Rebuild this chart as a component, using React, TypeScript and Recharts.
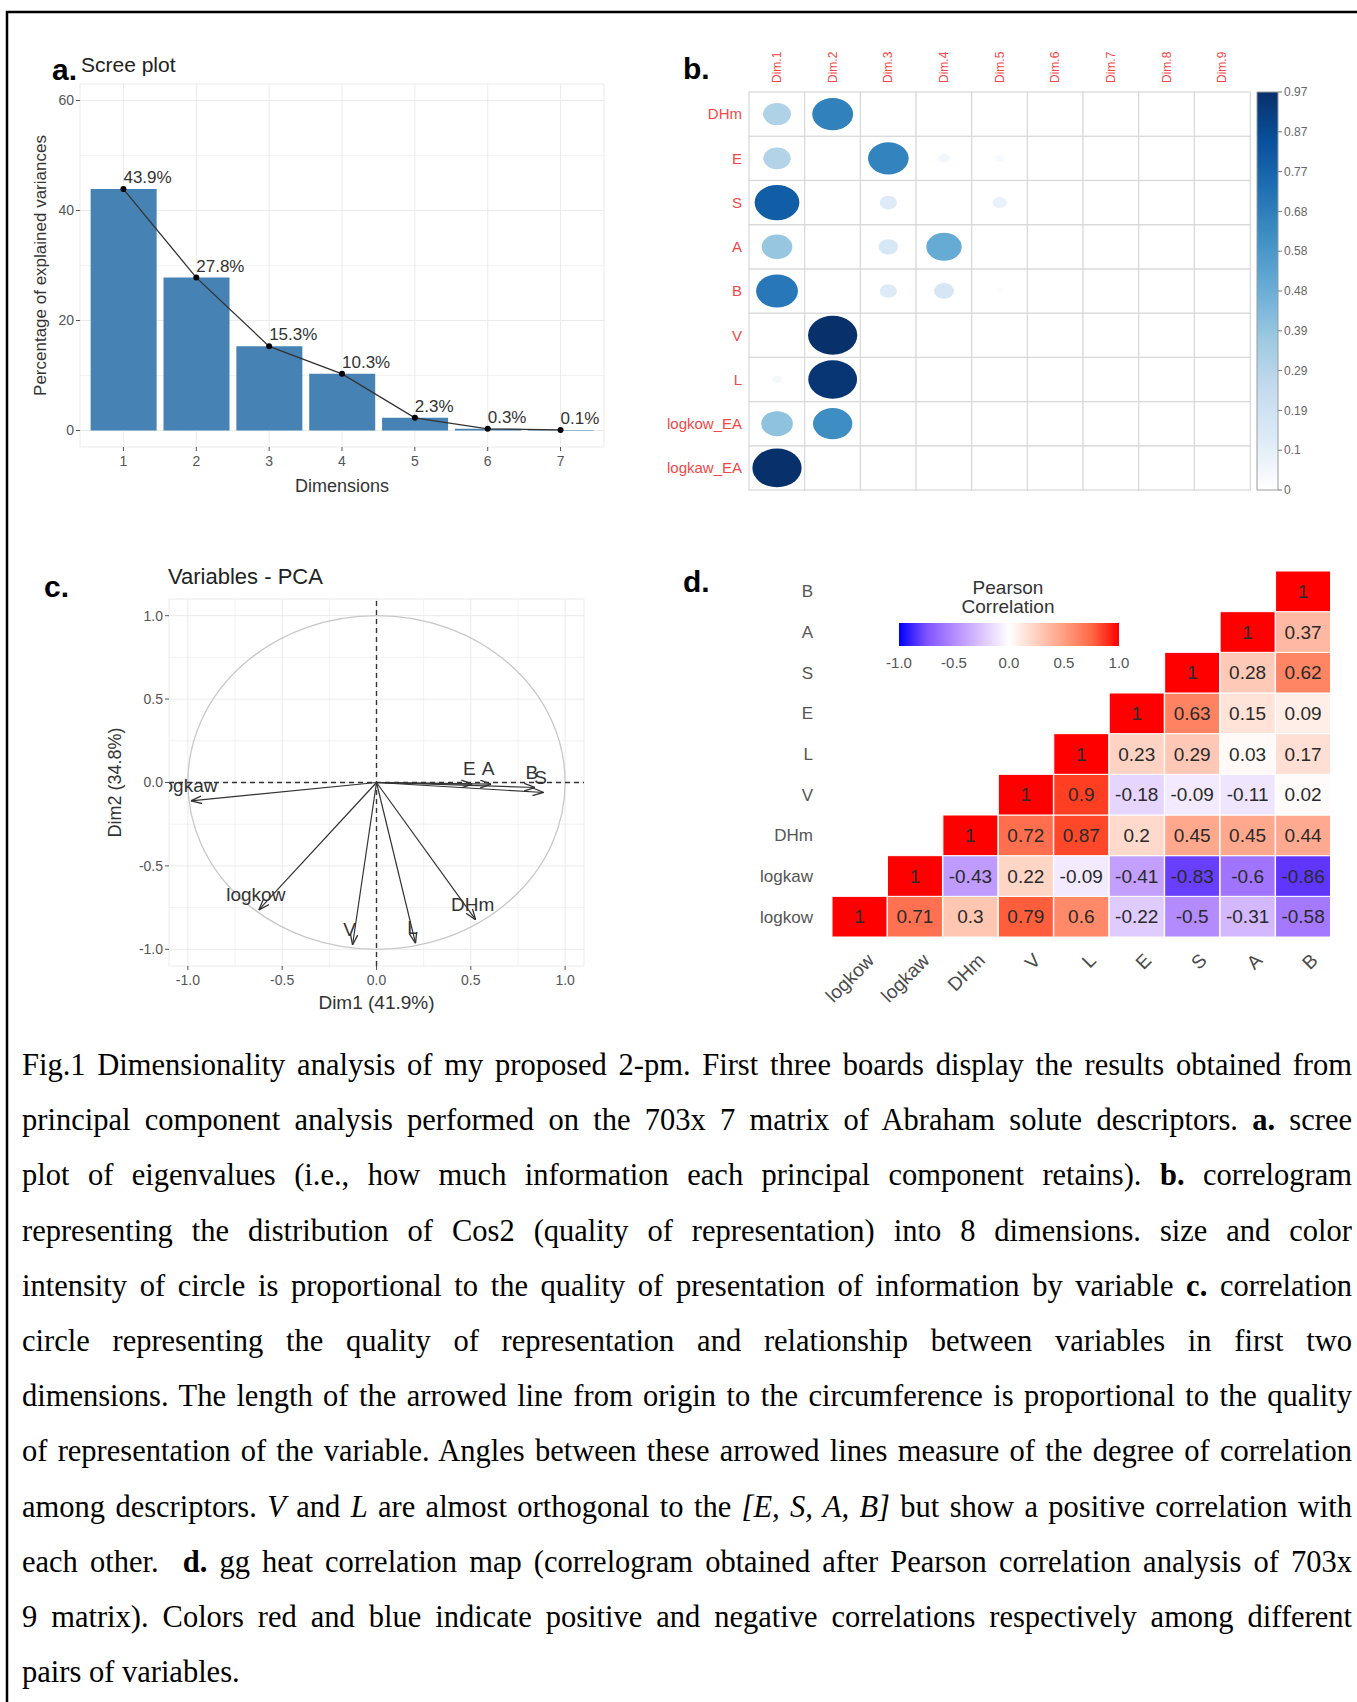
// @ts-nocheck
import React from 'react';
import {
  ComposedChart, BarChart, ScatterChart, Bar, Line, Scatter,
  XAxis, YAxis, CartesianGrid, ReferenceLine, ReferenceArea,
} from 'recharts';

const SANS = '"Liberation Sans", Arial, Helvetica, sans-serif';
const SERIF = '"Liberation Serif", "Times New Roman", serif';

// a. scree plot
const screeDims = ['1', '2', '3', '4', '5', '6', '7'];
const screeValues = [43.9, 27.8, 15.3, 10.3, 2.3, 0.3, 0.1];
const screeTicks = [0, 20, 40, 60];
const screeMinor = [10, 30, 50];

// b. cos2 correlogram (rows listed top to bottom)
const cosDims = ['Dim.1', 'Dim.2', 'Dim.3', 'Dim.4', 'Dim.5', 'Dim.6', 'Dim.7', 'Dim.8', 'Dim.9'];
const cosVars = ['DHm', 'E', 'S', 'A', 'B', 'V', 'L', 'logkow_EA', 'logkaw_EA'];
const cosDHm = [0.31, 0.67, 0.004, 0.006, 0.003, 0.004, 0.002, 0.002, 0.001];
const cosE = [0.3, 0.003, 0.66, 0.05, 0.03, 0.002, 0.002, 0.002, 0.001];
const cosS = [0.8, 0.002, 0.12, 0.008, 0.08, 0.002, 0.002, 0.002, 0.001];
const cosA = [0.38, 0.002, 0.15, 0.5, 0.003, 0.002, 0.002, 0.002, 0.001];
const cosB = [0.7, 0.002, 0.12, 0.16, 0.02, 0.002, 0.002, 0.002, 0.001];
const cosV = [0.008, 0.97, 0.006, 0.004, 0.002, 0.001, 0.001, 0.001, 0.001];
const cosL = [0.035, 0.95, 0.01, 0.002, 0.001, 0.001, 0.001, 0.001, 0.001];
const cosLogkow = [0.4, 0.62, 0.004, 0.005, 0.002, 0.001, 0.001, 0.001, 0.001];
const cosLogkaw = [0.97, 0.004, 0.004, 0.002, 0.001, 0.001, 0.001, 0.001, 0.001];
const cosRowTicks = [0.5, 1.5, 2.5, 3.5, 4.5, 5.5, 6.5, 7.5, 8.5];
const cosBarTicks = [0, 0.097, 0.194, 0.291, 0.388, 0.485, 0.582, 0.679, 0.776, 0.873, 0.97];
const cosBarLabels = ['0', '0.1', '0.19', '0.29', '0.39', '0.48', '0.58', '0.68', '0.77', '0.87', '0.97'];

// c. variables - PCA (coordinates on Dim1 / Dim2)
const pcaVars = ['logkaw', 'logkow', 'V', 'L', 'DHm', 'E', 'A', 'B', 'S'];
const pcaDim1 = [-0.984, -0.624, -0.127, 0.207, 0.526, 0.508, 0.608, 0.84, 0.886];
const pcaDim2 = [-0.11, -0.764, -0.974, -0.964, -0.824, -0.01, -0.01, -0.03, -0.06];
const pcaTicks = [-1, -0.5, 0, 0.5, 1];
const pcaMinor = [-0.75, -0.25, 0.25, 0.75];

// d. pearson correlation heatmap (rows bottom to top)
const heatVars = ['logkow', 'logkaw', 'DHm', 'V', 'L', 'E', 'S', 'A', 'B'];
const corLogkow = [1, 0.71, 0.3, 0.79, 0.6, -0.22, -0.5, -0.31, -0.58];
const corLogkaw = [null, 1, -0.43, 0.22, -0.09, -0.41, -0.83, -0.6, -0.86];
const corDHm = [null, null, 1, 0.72, 0.87, 0.2, 0.45, 0.45, 0.44];
const corV = [null, null, null, 1, 0.9, -0.18, -0.09, -0.11, 0.02];
const corL = [null, null, null, null, 1, 0.23, 0.29, 0.03, 0.17];
const corE = [null, null, null, null, null, 1, 0.63, 0.15, 0.09];
const corS = [null, null, null, null, null, null, 1, 0.28, 0.62];
const corA = [null, null, null, null, null, null, null, 1, 0.37];
const corB = [null, null, null, null, null, null, null, null, 1];
const heatRowTicks = [0.5, 1.5, 2.5, 3.5, 4.5, 5.5, 6.5, 7.5, 8.5];
const legendTicks = [-1, -0.5, 0, 0.5, 1];
const legendStops = [-1, -0.75, -0.5, -0.25, 0, 0.25, 0.5, 0.75, 1];

// colours
const BLUES = ['#FFFFFF', '#DEEBF7', '#C6DBEF', '#9ECAE1', '#6BAED6', '#4292C6', '#2171B5', '#08519C', '#08306B'];
const hex = (h) => [1, 3, 5].map((i) => parseInt(h.slice(i, i + 2), 16));
function blueAt(t) {
  const s = Math.max(0, Math.min(1, t)) * (BLUES.length - 1);
  const i = Math.min(Math.floor(s), BLUES.length - 2);
  const f = s - i;
  const a = hex(BLUES[i]);
  const b = hex(BLUES[i + 1]);
  return `rgb(${a.map((c, k) => Math.round(c + (b[k] - c) * f)).join(',')})`;
}

const lin = (c) => { c /= 255; return c <= 0.04045 ? c / 12.92 : Math.pow((c + 0.055) / 1.055, 2.4); };
const gam = (c) => {
  const v = c <= 0.0031308 ? 12.92 * c : 1.055 * Math.pow(Math.max(c, 0), 1 / 2.4) - 0.055;
  return Math.round(Math.max(0, Math.min(1, v)) * 255);
};
const fLab = (t) => (t > 0.008856 ? Math.cbrt(t) : 7.787 * t + 16 / 116);
const fInv = (t) => (t * t * t > 0.008856 ? t * t * t : (t - 16 / 116) / 7.787);
function toLab([r, g, b]) {
  const R = lin(r), G = lin(g), B = lin(b);
  const X = (0.4124 * R + 0.3576 * G + 0.1805 * B) / 0.95047;
  const Y = 0.2126 * R + 0.7152 * G + 0.0722 * B;
  const Z = (0.0193 * R + 0.1192 * G + 0.9505 * B) / 1.08883;
  const fx = fLab(X), fy = fLab(Y), fz = fLab(Z);
  return [116 * fy - 16, 500 * (fx - fy), 200 * (fy - fz)];
}
function fromLab([L, a, b]) {
  const fy = (L + 16) / 116, fx = fy + a / 500, fz = fy - b / 200;
  const X = fInv(fx) * 0.95047, Y = fInv(fy), Z = fInv(fz) * 1.08883;
  const R = 3.2406 * X - 1.5372 * Y - 0.4986 * Z;
  const G = -0.9689 * X + 1.8758 * Y + 0.0415 * Z;
  const B = 0.0557 * X - 0.204 * Y + 1.057 * Z;
  return `rgb(${gam(R)},${gam(G)},${gam(B)})`;
}
const LAB_WHITE = toLab([255, 255, 255]);
const LAB_RED = toLab([255, 0, 0]);
const LAB_BLUE = toLab([0, 0, 255]);
function corrColor(v) {
  const end = v >= 0 ? LAB_RED : LAB_BLUE;
  const t = Math.min(1, Math.abs(v));
  return fromLab(LAB_WHITE.map((c, k) => c + (end[k] - c) * t));
}

// chart tables
const screeData = screeDims.map((dim, i) => ({ dim, v: screeValues[i] }));

const cosRows = [cosDHm, cosE, cosS, cosA, cosB, cosV, cosL, cosLogkow, cosLogkaw];
const cosVarsUp = [...cosVars].reverse();
const cosData = cosDims.map((dim) => {
  const o = { dim };
  cosVars.forEach((v) => { o[v] = 1; });
  return o;
});
const cosMax = Math.max(...cosRows.flat());

const heatRows = [corLogkow, corLogkaw, corDHm, corV, corL, corE, corS, corA, corB];
const heatData = heatVars.map((name, j) => {
  const o = { name };
  heatRows.forEach((r, i) => { o['r' + i] = r[j] == null ? 0 : 1; });
  return o;
});

const screeDot = (p) => (
  <g key={'d' + p.index}>
    <circle cx={p.cx} cy={p.cy} r={3} fill="#000" />
    <text x={p.cx} y={p.cy - 6} fontSize={17} fill="#333">{`${p.payload.v}%`}</text>
  </g>
);

const DimTick = (p) => (
  <text x={p.x + 4} y={p.y} transform={`rotate(-90 ${p.x + 4} ${p.y})`} textAnchor="start" fontSize={12} fill="#F04848">
    {p.payload.value}
  </text>
);

const cosCell = (vals) => (p) => {
  const j = p.index ?? cosDims.indexOf(p.payload?.dim);
  const v = vals[j] ?? 0;
  const k = Math.sqrt(v / cosMax) * 0.44;
  return (
    <g>
      <rect x={p.x} y={p.y} width={p.width} height={p.height} fill="#fff" stroke="#D8D8D8" strokeWidth={1.2} />
      <ellipse cx={p.x + p.width / 2} cy={p.y + p.height / 2} rx={p.width * k} ry={p.height * k} fill={blueAt(v / cosMax)} />
    </g>
  );
};

const unitCircle = (p) => (
  <ellipse cx={p.x + p.width / 2} cy={p.y + p.height / 2} rx={Math.abs(p.width) / 2} ry={Math.abs(p.height) / 2}
    fill="none" stroke="#C8C8C8" strokeWidth={1.3} />
);

const pcaPoint = (p) => (p.payload.label
  ? <text x={p.cx - 3} y={p.cy - 9} textAnchor="middle" fontSize={19} fill="#333">{p.payload.label}</text>
  : <g />);

const heatCell = (row) => (p) => {
  const j = p.index ?? heatVars.indexOf(p.payload?.name);
  const v = row[j];
  if (v == null) return <g />;
  return (
    <g>
      <rect x={p.x} y={p.y} width={p.width} height={p.height} fill={corrColor(v)} stroke="#fff" strokeWidth={1} />
      <text x={p.x + p.width / 2} y={p.y + p.height / 2} textAnchor="middle" dominantBaseline="central" fontSize={19} fill="#2a2a2a">
        {String(v)}
      </text>
    </g>
  );
};

const HeatTick = (p) => {
  const ax = p.x + 6;
  const ay = p.y + 11;
  return (
    <text x={ax} y={ay} transform={`rotate(-45 ${ax} ${ay})`} textAnchor="end" dominantBaseline="hanging" fontSize={19} fill="#4a4a4a">
      {p.payload.value}
    </text>
  );
};

const captionLines = [
  <>Fig.1 Dimensionality analysis of my proposed 2-pm. First three boards display the results obtained from</>,
  <>principal component analysis performed on the 703x 7 matrix of Abraham solute descriptors. <b>a.</b> scree</>,
  <>plot of eigenvalues (i.e., how much information each principal component retains). <b>b.</b> correlogram</>,
  <>representing the distribution of Cos2 (quality of representation) into 8 dimensions. size and color</>,
  <>intensity of circle is proportional to the quality of presentation of information by variable <b>c.</b> correlation</>,
  <>circle representing the quality of representation and relationship between variables in first two</>,
  <>dimensions. The length of the arrowed line from origin to the circumference is proportional to the quality</>,
  <>of representation of the variable. Angles between these arrowed lines measure of the degree of correlation</>,
  <>among descriptors. <i>V</i> and <i>L</i> are almost orthogonal to the <i>[E, S, A, B]</i> but show a positive correlation with</>,
  <>each other.&nbsp; <b>d.</b> gg heat correlation map (correlogram obtained after Pearson correlation analysis of 703x</>,
  <>9 matrix). Colors red and blue indicate positive and negative correlations respectively among different</>,
  <>pairs of variables.</>,
];

const axisTick = { fontSize: 14, fill: '#555' };

export default function App() {
  return (
    <div style={{ position: 'absolute', left: 0, top: 0, width: 1357, height: 1702, background: '#fff', fontFamily: SANS, overflow: 'hidden' }}>
      <svg width={1357} height={1702} style={{ position: 'absolute', left: 0, top: 0 }}>
        <defs>
          <marker id="pcaArrow" viewBox="0 0 10 8" refX="10" refY="4" markerWidth="11" markerHeight="9" markerUnits="userSpaceOnUse" orient="auto">
            <path d="M0,0.5 L10,4 L0,7.5" fill="none" stroke="#333" strokeWidth={1.2} />
          </marker>
          <linearGradient id="cosGrad" x1="0" y1="1" x2="0" y2="0">
            {BLUES.map((c, i) => <stop key={i} offset={i / (BLUES.length - 1)} stopColor={c} />)}
          </linearGradient>
          <linearGradient id="corrGrad" x1="0" y1="0" x2="1" y2="0">
            {legendStops.map((v, i) => <stop key={i} offset={(v + 1) / 2} stopColor={corrColor(v)} />)}
          </linearGradient>
        </defs>
        <path d="M7 1702 V12 H1357" fill="none" stroke="#000" strokeWidth={2.5} />
        <g fontFamily={SANS}>
          <text x={52} y={80} fontSize={30} fontWeight="bold" fill="#000">a.</text>
          <text x={81} y={72} fontSize={21} fill="#222">Scree plot</text>
          <text x={683} y={79} fontSize={30} fontWeight="bold" fill="#000">b.</text>
          <text x={44} y={597} fontSize={30} fontWeight="bold" fill="#000">c.</text>
          <text x={168} y={584} fontSize={22} fill="#222">Variables - PCA</text>
          <text x={683} y={592} fontSize={30} fontWeight="bold" fill="#000">d.</text>
          <text x={1008} y={594} fontSize={19} fill="#333" textAnchor="middle">Pearson</text>
          <text x={1008} y={613} fontSize={19} fill="#333" textAnchor="middle">Correlation</text>
          <rect x={899} y={623} width={220} height={23} fill="url(#corrGrad)" />
          {legendTicks.map((v) => (
            <text key={v} x={1009 + v * 110} y={668} fontSize={15} fill="#555" textAnchor="middle">{v.toFixed(1)}</text>
          ))}
        </g>
      </svg>

      {/* a. scree plot */}
      <div style={{ position: 'absolute', left: 0, top: 0 }}>
        <ComposedChart width={620} height={500} data={screeData} margin={{ top: 84, right: 16, bottom: 0, left: 24 }} barCategoryGap="5%">
          <CartesianGrid stroke="#F3F3F3" vertical={false} horizontalValues={screeMinor} />
          <CartesianGrid stroke="#EBEBEB" />
          <XAxis dataKey="dim" padding={{ left: 7, right: 7 }} axisLine={false} tickSize={4} tickMargin={5}
            tickLine={{ stroke: '#555' }} tick={axisTick} height={53}
            label={{ value: 'Dimensions', position: 'insideBottom', offset: 8, fontSize: 18, fill: '#333' }} />
          <YAxis type="number" domain={[-3, 63]} ticks={screeTicks} width={56} axisLine={false} tickSize={4} tickMargin={2}
            tickLine={{ stroke: '#555' }} tick={axisTick}
            label={{ value: 'Percentage of explained variances', angle: -90, position: 'insideLeft', offset: 16, fontSize: 17, fill: '#333', style: { textAnchor: 'middle' } }} />
          <Bar dataKey="v" fill="#4682B4" isAnimationActive={false} />
          <Line dataKey="v" stroke="#333" strokeWidth={1.3} dot={screeDot} activeDot={false} isAnimationActive={false} />
        </ComposedChart>
      </div>

      {/* b. cos2 correlogram */}
      <div style={{ position: 'absolute', left: 620, top: 0 }}>
        <BarChart width={640} height={500} data={cosData} margin={{ top: 0, right: 10, bottom: 10, left: 0 }} barCategoryGap={0}>
          <XAxis dataKey="dim" orientation="top" height={92} axisLine={false} tickLine={false} tickSize={0} tickMargin={9}
            interval={0} tick={<DimTick />} />
          <YAxis type="number" domain={[0, 9]} ticks={cosRowTicks} tickFormatter={(t) => cosVarsUp[Math.floor(t)]}
            width={129} axisLine={false} tickLine={false} tickSize={0} tickMargin={7} tick={{ fontSize: 15, fill: '#F04848' }} />
          {cosVarsUp.map((v) => (
            <Bar key={v} dataKey={v} stackId="c" shape={cosCell(cosRows[cosVars.indexOf(v)])} isAnimationActive={false} />
          ))}
        </BarChart>
      </div>
      <div style={{ position: 'absolute', left: 1240, top: 0 }}>
        <BarChart width={117} height={500} data={[{ k: 'cos2', v: cosMax }]} margin={{ top: 92, right: 0, bottom: 10, left: 17 }} barCategoryGap={0}>
          <XAxis dataKey="k" hide />
          <YAxis orientation="right" type="number" domain={[0, cosMax]} ticks={cosBarTicks}
            tickFormatter={(t) => cosBarLabels[cosBarTicks.indexOf(t)]} width={79} axisLine={false}
            tickSize={4} tickMargin={2} tickLine={{ stroke: '#777' }} tick={{ fontSize: 12, fill: '#666' }} />
          <Bar dataKey="v" fill="url(#cosGrad)" stroke="#9A9A9A" isAnimationActive={false} />
        </BarChart>
      </div>

      {/* c. variables - PCA */}
      <div style={{ position: 'absolute', left: 0, top: 540 }}>
        <ScatterChart width={620} height={480} margin={{ top: 59, right: 36, bottom: 0, left: 109 }}>
          <CartesianGrid stroke="#F2F2F2" horizontalValues={pcaMinor} verticalValues={pcaMinor} />
          <CartesianGrid stroke="#EBEBEB" />
          <ReferenceArea x1={-1} x2={1} y1={-1} y2={1} shape={unitCircle} />
          <ReferenceLine x={0} stroke="#333" strokeDasharray="5 4" strokeWidth={1.4} />
          <ReferenceLine y={0} stroke="#333" strokeDasharray="5 4" strokeWidth={1.4} />
          <XAxis type="number" dataKey="x" domain={[-1.1, 1.1]} ticks={pcaTicks} allowDataOverflow
            tickFormatter={(t) => t.toFixed(1)} axisLine={false} tickSize={4} tickMargin={5}
            tickLine={{ stroke: '#555' }} tick={axisTick} height={54}
            label={{ value: 'Dim1 (41.9%)', position: 'insideBottom', offset: 11, fontSize: 19, fill: '#333' }} />
          <YAxis type="number" dataKey="y" domain={[-1.1, 1.1]} ticks={pcaTicks} allowDataOverflow
            tickFormatter={(t) => t.toFixed(1)} width={60} axisLine={false} tickSize={4} tickMargin={2}
            tickLine={{ stroke: '#555' }} tick={axisTick}
            label={{ value: 'Dim2 (34.8%)', angle: -90, position: 'insideLeft', offset: 6, fontSize: 18, fill: '#333', style: { textAnchor: 'middle' } }} />
          {pcaVars.map((name, i) => (
            <Scatter key={name} data={[{ x: 0, y: 0, label: '' }, { x: pcaDim1[i], y: pcaDim2[i], label: name }]}
              line={{ stroke: '#333', strokeWidth: 1.2, markerEnd: 'url(#pcaArrow)' }} shape={pcaPoint} isAnimationActive={false} />
          ))}
        </ScatterChart>
      </div>

      {/* d. pearson correlation heatmap */}
      <div style={{ position: 'absolute', left: 660, top: 540 }}>
        <BarChart width={697} height={480} data={heatData} margin={{ top: 31, right: 26, bottom: 0, left: 0 }} barCategoryGap={0}>
          <XAxis dataKey="name" height={83} axisLine={false} tickLine={false} tickSize={0} tickMargin={4} interval={0} tick={<HeatTick />} />
          <YAxis type="number" domain={[0, 9]} ticks={heatRowTicks} tickFormatter={(t) => heatVars[Math.floor(t)]}
            width={172} axisLine={false} tickLine={false} tickSize={0} tickMargin={19} tick={{ fontSize: 17, fill: '#555' }} />
          {heatVars.map((v, i) => (
            <Bar key={v} dataKey={'r' + i} stackId="h" shape={heatCell(heatRows[i])} isAnimationActive={false} />
          ))}
        </BarChart>
      </div>

      {/* caption */}
      <div style={{ position: 'absolute', left: 22, top: 1038, width: 1330, fontFamily: SERIF, fontSize: 30.5, color: '#000' }}>
        {captionLines.map((line, i) => (
          <div key={i} style={{ height: 55.2, lineHeight: '55.2px', textAlign: 'justify', textAlignLast: i === captionLines.length - 1 ? 'left' : 'justify' }}>
            {line}
          </div>
        ))}
      </div>
    </div>
  );
}
